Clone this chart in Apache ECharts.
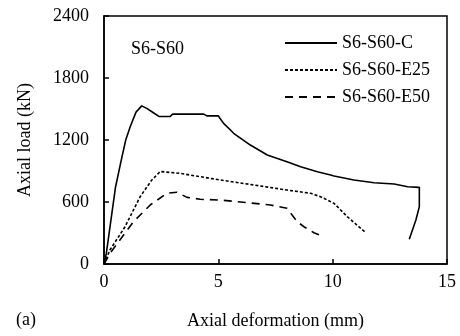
<!DOCTYPE html>
<html><head><meta charset="utf-8">
<script src="https://cdn.jsdelivr.net/npm/echarts@6/dist/echarts.min.js"></script>
<style>html,body{margin:0;padding:0;background:#fff}#c{width:460px;height:336px}</style>
</head><body><div id="c"></div>
<script>
const seriesNames = ['S6-S60-C', 'S6-S60-E25', 'S6-S60-E50'];
const xTicks = [0, 5, 10, 15];
const yTicks = [0, 600, 1200, 1800, 2400];
// [deformation (mm), load (kN)]
const dataC = [[0,0],[0.1,100],[0.3,420],[0.5,740],[0.75,1000],[0.95,1200],[1.15,1330],[1.4,1470],[1.65,1530],[1.87,1506],[2.16,1464],[2.4,1428],[2.9,1428],[3.0,1450],[4.36,1450],[4.5,1433],[5.0,1433],[5.23,1361],[5.53,1297],[5.67,1265],[6.4,1151],[7.14,1055],[8.0,990],[8.6,942],[9.33,893],[9.91,861],[10.06,852],[10.93,813],[11.81,787],[12.69,774],[13.28,748],[13.79,742],[13.79,555],[13.64,426],[13.35,239]];
const dataE25 = [[0,0],[0.26,135],[0.92,361],[1.58,651],[2.09,813],[2.46,895],[3.33,877],[4.21,845],[5.09,813],[6.55,765],[8.0,716],[9.04,684],[9.47,651],[10.06,587],[10.64,458],[11.45,303]];
const dataE50 = [[0,0],[0.26,103],[1.29,410],[2.02,571],[2.75,684],[3.19,694],[3.63,645],[4.21,626],[5.09,619],[6.26,594],[7.28,571],[8.0,539],[8.45,410],[8.74,361],[9.18,303],[9.62,265]];
const panelLabel = '(a)';
const specimenLabel = 'S6-S60';
const xName = 'Axial deformation (mm)';
const yName = 'Axial load (kN)';

const FONT = 'Liberation Serif';
const FS = 18;
const chart = echarts.init(document.getElementById('c'), null, {renderer: 'canvas'});
const mk = (name, data, type) => ({
  name, type: 'line', data, symbol: 'none', smooth: false,
  lineStyle: {color: '#000', width: 1.6, type},
  itemStyle: {color: '#000'}
});
chart.setOption({
  animation: false,
  backgroundColor: '#fff',
  textStyle: {fontFamily: FONT, color: '#000'},
  grid: {left: 104, right: 13, top: 16, bottom: 72, show: true, borderColor: '#000', borderWidth: 1.5, backgroundColor: 'transparent'},
  legend: {
    right: 25, top: 29, orient: 'vertical', itemWidth: 52, itemHeight: 12, itemGap: 9,
    data: seriesNames,
    itemStyle: {opacity: 0, borderWidth: 0},
    textStyle: {fontFamily: FONT, fontSize: FS, color: '#000'}
  },
  xAxis: {
    type: 'value', min: xTicks[0], max: xTicks[xTicks.length - 1], interval: 5,
    name: xName, nameLocation: 'middle', nameGap: 48,
    nameTextStyle: {fontFamily: FONT, fontSize: FS, color: '#000'},
    axisLine: {lineStyle: {color: '#000', width: 1.5}},
    axisTick: {inside: true, length: 5, lineStyle: {color: '#000', width: 1.5}},
    axisLabel: {fontFamily: FONT, fontSize: FS, color: '#000', margin: 9, formatter: v => String(v)},
    splitLine: {show: false}
  },
  yAxis: {
    type: 'value', min: yTicks[0], max: yTicks[yTicks.length - 1], interval: 600,
    name: yName, nameLocation: 'middle', nameGap: 70, nameRotate: 90,
    nameTextStyle: {fontFamily: FONT, fontSize: FS, color: '#000'},
    axisLine: {lineStyle: {color: '#000', width: 1.5}},
    axisTick: {inside: true, length: 5, lineStyle: {color: '#000', width: 1.5}},
    axisLabel: {fontFamily: FONT, fontSize: FS, color: '#000', margin: 15, formatter: v => String(v)},
    splitLine: {show: false}
  },
  graphic: [
    {type: 'text', left: 131, top: 40, style: {text: specimenLabel, font: '18px "Liberation Serif"', fill: '#000'}},
    {type: 'text', left: 16, top: 311, style: {text: panelLabel, font: '18px "Liberation Serif"', fill: '#000'}}
  ],
  series: [
    mk(seriesNames[0], dataC, 'solid'),
    mk(seriesNames[1], dataE25, [3, 2]),
    mk(seriesNames[2], dataE50, [8, 6])
  ]
});
</script></body></html>
